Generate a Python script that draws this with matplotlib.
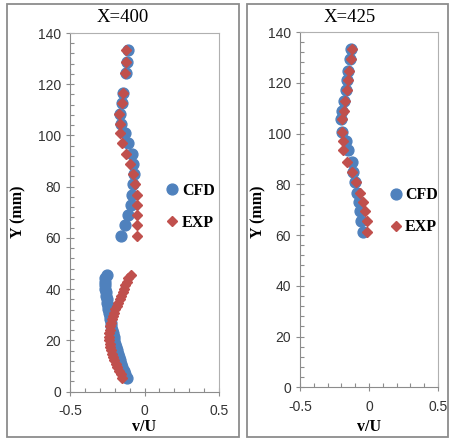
import matplotlib.pyplot as plt
from matplotlib.patches import Rectangle
from matplotlib.ticker import MultipleLocator

# X = 400 profile
y_400 = [133.3, 128.5, 124.5, 116.7, 112.6, 108.5, 104.5, 100.9, 96.9, 92.7,
         88.8, 84.8, 81.0, 76.9, 73.0, 68.9, 65.0, 60.9,
         45.5, 44.2, 42.8, 41.5, 40.2, 38.8, 37.5, 36.2, 34.8, 33.5, 32.2,
         30.8, 29.5, 28.2, 26.8, 25.5, 24.2, 22.8, 21.5, 20.2, 18.8, 17.5,
         16.2, 14.8, 13.5, 12.2, 10.8, 9.5, 8.2, 6.8, 5.5]
cfd_400 = [-0.109, -0.115, -0.124, -0.146, -0.153, -0.164, -0.160, -0.131, -0.109, -0.086,
           -0.075, -0.068, -0.075, -0.084, -0.093, -0.109, -0.131, -0.160,
           -0.254, -0.262, -0.265, -0.264, -0.262, -0.260, -0.257, -0.254, -0.251, -0.247, -0.243,
           -0.238, -0.234, -0.230, -0.226, -0.222, -0.218, -0.213, -0.208, -0.203, -0.198, -0.192,
           -0.186, -0.180, -0.173, -0.166, -0.158, -0.150, -0.140, -0.128, -0.115]
exp_400 = [-0.124, -0.124, -0.131, -0.146, -0.153, -0.169, -0.164, -0.164, -0.151, -0.124,
           -0.097, -0.075, -0.064, -0.052, -0.052, -0.052, -0.052, -0.052,
           -0.093, -0.108, -0.118, -0.128, -0.138, -0.146, -0.155, -0.165, -0.176, -0.186, -0.195,
           -0.204, -0.212, -0.219, -0.225, -0.230, -0.233, -0.235, -0.236, -0.236, -0.234, -0.231,
           -0.226, -0.220, -0.213, -0.205, -0.194, -0.182, -0.170, -0.158, -0.150]

# X = 425 profile
y_425 = [133.2, 129.2, 124.7, 121.1, 117.1, 112.9, 109.0, 105.6, 100.7, 97.2,
         93.5, 88.9, 84.7, 81.0, 76.7, 73.2, 69.5, 65.6, 61.2]
cfd_425 = [-0.133, -0.138, -0.150, -0.162, -0.167, -0.179, -0.196, -0.205, -0.198, -0.167,
           -0.155, -0.125, -0.114, -0.099, -0.087, -0.075, -0.065, -0.055, -0.046]
exp_425 = [-0.123, -0.128, -0.143, -0.152, -0.162, -0.172, -0.181, -0.193, -0.193, -0.186,
           -0.186, -0.162, -0.124, -0.097, -0.068, -0.047, -0.030, -0.017, -0.012]

blue = '#4f81bd'
red = '#c0504d'
W, H = 452, 440

fig = plt.figure(figsize=(W / 100, H / 100), dpi=100)

# outer panel frames
for x0, x1 in [(7, 239), (247, 448)]:
    fig.patches.append(Rectangle((x0 / W, 3 / H), (x1 - x0) / W, 433 / H,
                                 transform=fig.transFigure, fill=False,
                                 edgecolor='#8c8c8c', linewidth=1.3))

panels = [
    ([70, 391.7, 219, 33], y_400, cfd_400, exp_400, 'X=400', 123, 18, (0.60, 0.515)),
    ([300, 387.3, 438, 32], y_425, cfd_425, exp_425, 'X=425', 350, 258, (0.60, 0.495)),
]

for (l, b, r, t), yy, cfd, exp, title, tx, ylx, leg in panels:
    ax = fig.add_axes([l / W, 1 - b / H, (r - l) / W, (b - t) / H])
    ax.plot(cfd, yy, 'o', color=blue, markersize=7.8, label='CFD', linestyle='none')
    ax.plot(exp, yy, 'D', color=red, markersize=5.4, label='EXP', linestyle='none')
    ax.set_xlim(-0.5, 0.5)
    ax.set_ylim(0, 140)
    ax.xaxis.set_major_locator(MultipleLocator(0.5))
    ax.xaxis.set_minor_locator(MultipleLocator(0.1))
    ax.yaxis.set_major_locator(MultipleLocator(20))
    ax.yaxis.set_minor_locator(MultipleLocator(4))
    ax.set_xticks([-0.5, 0, 0.5], ['-0.5', '0', '0.5'])
    ax.tick_params(which='major', direction='inout', length=6, width=0.8,
                   color='#8c8c8c', labelsize=10, labelcolor='#333333')
    ax.tick_params(which='minor', direction='in', length=3, width=0.8, color='#8c8c8c')
    ax.tick_params(axis='x', which='major', pad=6)
    for lab in ax.get_xticklabels() + ax.get_yticklabels():
        lab.set_family('Liberation Sans')
    for s in ['left', 'bottom']:
        ax.spines[s].set_color('#8c8c8c')
    for s in ['top', 'right']:
        ax.spines[s].set_color('#b0b0b0')
    ax.legend(loc='center left', bbox_to_anchor=leg, frameon=False,
              prop={'family': 'Liberation Serif', 'weight': 'bold', 'size': 11.5},
              handlelength=0.6, handletextpad=0.3, labelspacing=1.0, borderpad=0)
    fig.text(tx / W, 1 - 18 / H, title, ha='center', va='center',
             family='Liberation Serif', fontsize=13.5)
    fig.text(((l + r) / 2) / W, 1 - 427 / H, 'v/U', ha='center', va='center',
             family='Liberation Serif', fontweight='bold', fontsize=11.5)
    fig.text(ylx / W, 1 - 212 / H, 'Y (mm)', ha='center', va='center', rotation=90,
             family='Liberation Serif', fontweight='bold', fontsize=11.5)

fig.savefig('out.png', dpi=100)
